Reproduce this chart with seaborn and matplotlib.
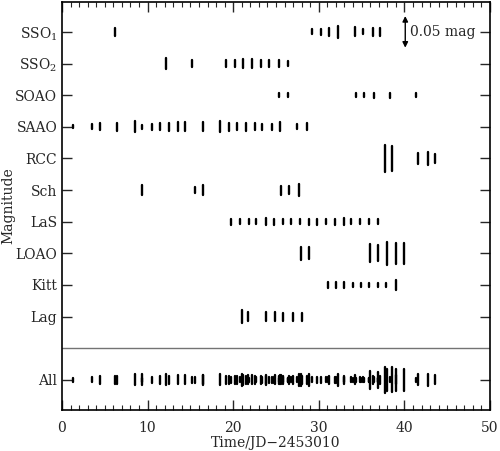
import seaborn as sns
import matplotlib.pyplot as plt
import pandas as pd
import numpy as np

# night centres (JD-2453010) and spread of each night (mmag)
sites = ['SSO$_1$', 'SSO$_2$', 'SOAO', 'SAAO', 'RCC', 'Sch', 'LaS', 'LOAO', 'Kitt', 'Lag']

sso1_t = [6.2, 29.2, 30.3, 31.2, 32.3, 34.2, 35.2, 36.3, 37.2]
sso1_s = [13, 9, 11, 14, 22, 16, 9, 13, 14]
sso2_t = [12.15, 15.15, 19.2, 20.2, 21.2, 22.2, 23.2, 24.2, 25.3, 26.4]
sso2_s = [19, 11, 14, 14, 17, 16, 13, 11, 13, 8]
soao_t = [25.4, 26.4, 34.3, 35.3, 36.4, 38.3, 41.4]
soao_s = [8, 8, 8, 8, 9, 9, 8]
saao_t = [1.3, 3.5, 4.4, 6.4, 8.5, 9.4, 10.5, 11.4, 12.5, 13.5, 14.4, 16.5, 18.4,
          19.5, 20.5, 21.5, 22.5, 23.4, 24.5, 25.5, 27.5, 28.6]
saao_s = [6, 9, 13, 14, 19, 8, 11, 13, 14, 16, 16, 16, 19, 14, 13, 14, 13, 11, 11, 16, 9, 13]
rcc_t = [37.7, 38.6, 41.6, 42.7, 43.6]
rcc_s = [47, 44, 19, 22, 16]
sch_t = [9.4, 15.5, 16.5, 25.6, 26.5, 27.7]
sch_s = [19, 11, 17, 16, 13, 22]
las_t = [19.8, 20.8, 21.8, 22.7, 23.8, 24.8, 25.8, 26.8, 27.8, 28.9, 29.8, 30.8,
         31.9, 32.9, 33.8, 34.8, 35.9, 36.9]
las_s = [11, 9, 8, 9, 13, 11, 9, 9, 9, 11, 11, 9, 11, 13, 9, 9, 8, 8]
loao_t = [27.9, 28.9, 36.0, 36.95, 38.0, 39.0, 39.95]
loao_s = [22, 21, 32, 28, 40, 38, 38]
kitt_t = [31.1, 32.0, 33.0, 34.0, 34.9, 35.9, 36.95, 37.9, 39.0]
kitt_s = [9, 11, 9, 8, 8, 8, 8, 8, 16]
lag_t = [21.0, 21.7, 23.8, 24.9, 25.85, 26.95, 28.0]
lag_s = [22, 16, 17, 16, 14, 14, 14]

times = [sso1_t, sso2_t, soao_t, saao_t, rcc_t, sch_t, las_t, loao_t, kitt_t, lag_t]
spreads = [sso1_s, sso2_s, soao_s, saao_s, rcc_s, sch_s, las_s, loao_s, kitt_s, lag_s]
rows = [11, 10, 9, 8, 7, 6, 5, 4, 3, 2]   # 'All' sits at 0, divider at 1

mag_per_row = 0.05

# each night -> short vertical segment, once in its own row and once in 'All'
recs = []
nid = 0
for row, ts, ss in zip(rows, times, spreads):
    for t, s in zip(ts, ss):
        h = s / 1000 / mag_per_row / 2 * 0.9
        for base in (row, 0):
            recs.append((nid, t, base - h))
            recs.append((nid, t, base + h))
            nid += 1
df = pd.DataFrame(recs, columns=['night', 't', 'y'])

sns.set_style('ticks')
plt.rcParams['font.family'] = ['DejaVu Serif']
plt.rcParams['mathtext.fontset'] = 'dejavuserif'

fig = plt.figure(figsize=(5, 4.51), dpi=100)
ax = fig.add_axes([0.124, 0.091, 0.856, 0.905])

sns.lineplot(data=df, x='t', y='y', units='night', estimator=None, sort=False,
             color='black', lw=1.7, solid_capstyle='round', legend=False, ax=ax)

ax.axhline(1, color='0.45', lw=1.0)

ax.annotate('', xy=(40.1, 11.5), xytext=(40.1, 10.5),
            arrowprops=dict(arrowstyle='<|-|>', color='black', lw=1.0,
                            mutation_scale=8, shrinkA=0, shrinkB=0))
ax.text(40.6, 11, '0.05 mag', va='center', ha='left', fontsize=10)

ax.set_xlim(0, 50)
ax.set_ylim(-0.95, 11.95)
ax.set_xticks(np.arange(0, 51, 10))
ax.set_xticks(np.arange(0, 51, 1), minor=True)
ax.set_yticks(rows + [0])
ax.set_yticklabels(sites + ['All'])
ax.tick_params(which='both', direction='in', top=True, right=True, labelsize=10)
ax.tick_params(which='major', length=7, width=1)
ax.tick_params(which='minor', length=3.5, width=0.8)
ax.tick_params(axis='x', pad=8)
for sp in ax.spines.values():
    sp.set_linewidth(1.2)
    sp.set_color('black')

ax.set_xlabel('Time/JD\u22122453010', fontsize=10, labelpad=1)
ax.set_ylabel('Magnitude', fontsize=10)
ax.yaxis.set_label_coords(-0.11, 0.5)

fig.savefig('out.png', dpi=100)
